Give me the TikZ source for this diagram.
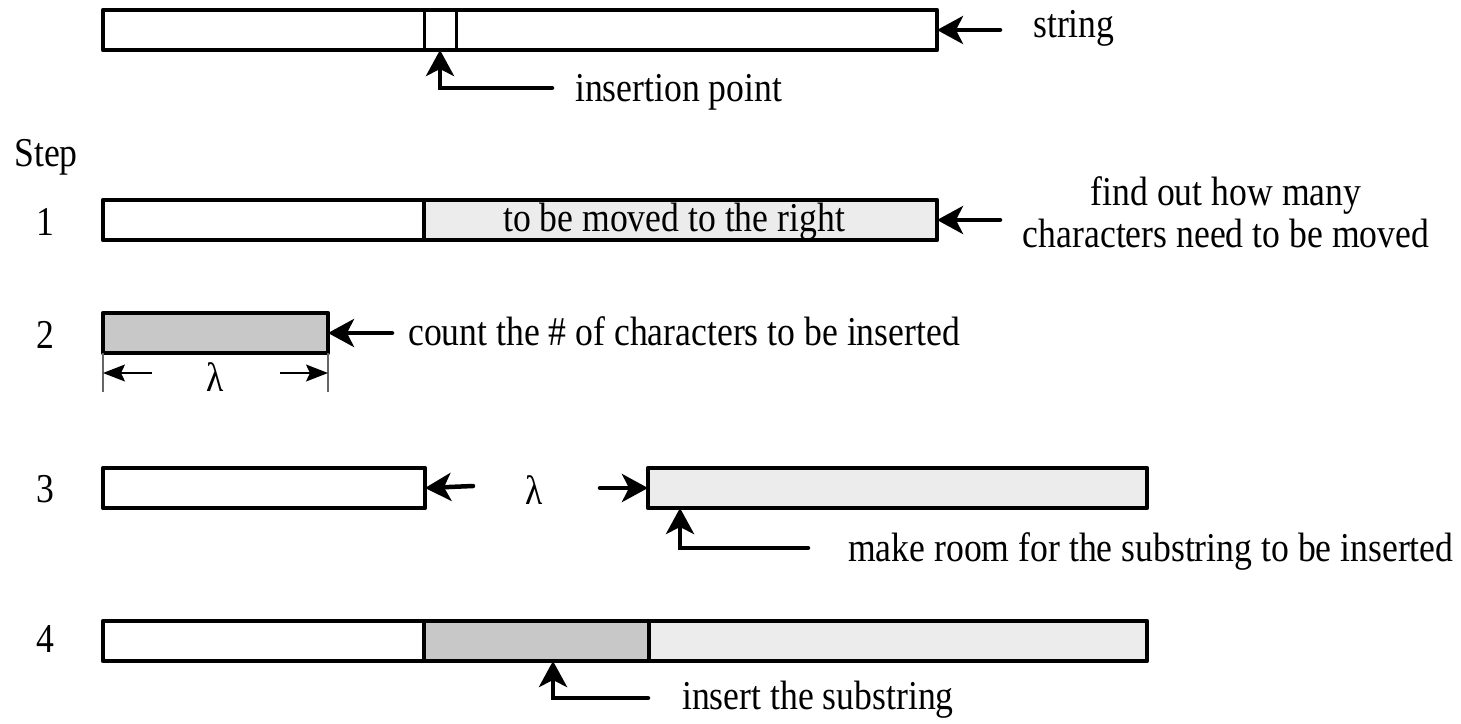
\documentclass[tikz,border=0pt]{standalone}
\usepackage{fontspec}
\setmainfont{Liberation Serif}[FakeStretch=0.87]
\usetikzlibrary{arrows.meta}
\definecolor{lightfill}{RGB}{236,236,236}
\definecolor{darkfill}{RGB}{200,200,200}
\tikzset{
  bar/.style={draw=black, line width=4.5pt, inner sep=0pt, outer sep=0pt,
    minimum height=40pt, anchor=north west, line join=round},
  divider/.style={line width=3pt},
  lbl/.style={font=\fontsize{41}{42}\selectfont, inner sep=0pt},
  bigarrow/.style={line width=4.5pt, line cap=round,
    -{Stealth[length=26pt,width=28pt,inset=7pt]}},
  thinarrow/.style={line width=1.5pt,
    -{Stealth[length=22pt,width=17pt,inset=4pt]}},
  dimline/.style={line width=1.2pt, draw=black!60}
}
\begin{document}
\begin{tikzpicture}[x=1pt,y=-1pt]
\useasboundingbox (0,0) rectangle (1461,723);

% ---------- original string ----------
\node[bar, minimum width=834pt] (s0) at (103,10) {};
\draw[divider] (424,10) -- (424,50);
\draw[divider] (456,10) -- (456,50);
\coordinate (s0tail) at (1000,30);
\draw[bigarrow] (s0tail) -- (s0.east);
\node[lbl, anchor=west] (s0lbl) at (1033,28) {string};
\coordinate (iptail) at (552,88);
\coordinate (iptip) at (440,50);
\draw[bigarrow] (iptail) -| (iptip);
\node[lbl, anchor=west] (iplbl) at (575,92) {insertion point};

\node[lbl] (steplbl) at (46,157) {Step};

% ---------- step 1 ----------
\node[lbl] (n1) at (45,222) {1};
\node[bar, minimum width=321pt] (b1l) at (103,200) {};
\node[bar, fill=lightfill, minimum width=513pt] (b1r) at (424,200) {};
\node[lbl] (b1txt) at (674,222) {to be moved to the right};
\coordinate (b1tail) at (1000,220);
\draw[bigarrow] (b1tail) -- (b1r.east);
\node[lbl, align=center] (b1note) at (1226,212) {find out how many\\characters need to be moved};

% ---------- step 2 ----------
\node[lbl] (n2) at (45,335) {2};
\node[bar, fill=darkfill, minimum width=225pt] (b2) at (103,313) {};
\coordinate (b2tail) at (392,333);
\draw[bigarrow] (b2tail) -- (b2.east);
\node[lbl, anchor=west] (b2lbl) at (408,331) {count the \# of characters to be inserted};
\coordinate (d2l) at (103,392);
\coordinate (d2r) at (328,392);
\draw[dimline] (b2.south west) -- (d2l);
\draw[dimline] (b2.south east) -- (d2r);
\coordinate (d2ltail) at (152,373);
\coordinate (d2lhead) at (103,373);
\coordinate (d2rtail) at (280,373);
\coordinate (d2rhead) at (328,373);
\draw[thinarrow] (d2ltail) -- (d2lhead);
\draw[thinarrow] (d2rtail) -- (d2rhead);
\node[lbl] (lam2) at (215,377) {λ};

% ---------- step 3 ----------
\node[lbl] (n3) at (45,489) {3};
\node[bar, minimum width=322pt] (b3l) at (103,468) {};
\node[bar, fill=lightfill, minimum width=499pt] (b3r) at (648,468) {};
\coordinate (b3ltail) at (473,486);
\draw[bigarrow] (b3ltail) -- (b3l.east);
\node[lbl] (lam3) at (534,490) {λ};
\coordinate (b3rtail) at (600,488);
\draw[bigarrow] (b3rtail) -- (b3r.west);
\coordinate (b3tail) at (808,548);
\coordinate (b3tip) at (680,508);
\draw[bigarrow] (b3tail) -| (b3tip);
\node[lbl, anchor=west] (b3lbl) at (848,551) {make room for the substring to be inserted};

% ---------- step 4 ----------
\node[lbl] (n4) at (45,639) {4};
\node[bar, minimum width=321pt] (b4l) at (103,621) {};
\node[bar, fill=darkfill, minimum width=225pt] (b4m) at (424,621) {};
\node[bar, fill=lightfill, minimum width=498pt] (b4r) at (649,621) {};
\coordinate (b4tail) at (648,698);
\coordinate (b4tip) at (553,661);
\draw[bigarrow] (b4tail) -| (b4tip);
\node[lbl, anchor=west] (b4lbl) at (682,700) {insert the substring};
\end{tikzpicture}
\end{document}
